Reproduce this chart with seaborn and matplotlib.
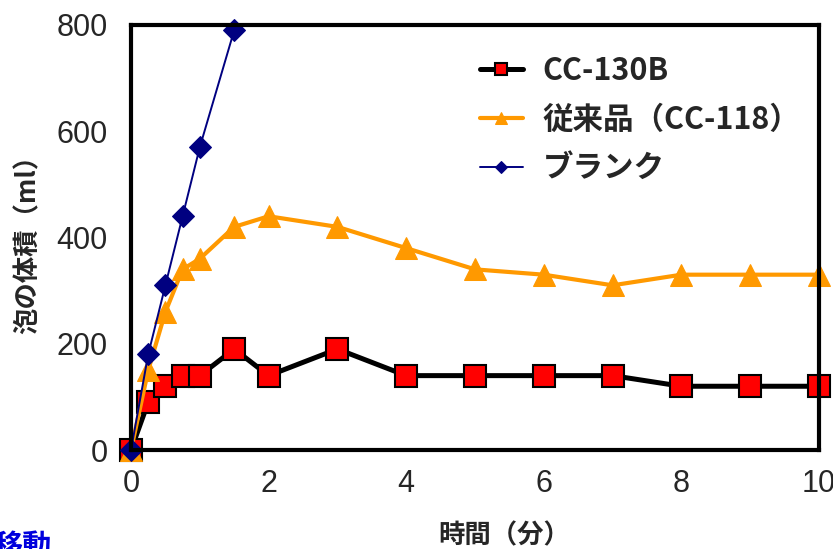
import seaborn as sns
import pandas as pd
import numpy as np
import matplotlib.pyplot as plt

# time (min) and foam volume (ml)
time_main = [0, 0.25, 0.5, 0.75, 1, 1.5, 2, 3, 4, 5, 6, 7, 8, 9, 10]
cc130b = [0, 90, 120, 140, 140, 190, 140, 190, 140, 140, 140, 140, 120, 120, 120]
cc118 = [0, 150, 260, 340, 360, 420, 440, 420, 380, 340, 330, 310, 330, 330, 330]
time_blank = [0, 0.25, 0.5, 0.75, 1, 1.5]
blank = [0, 180, 310, 440, 570, 790]

labels = ['CC-130B', '従来品（CC-118）', 'ブランク']
xticks = [0, 2, 4, 6, 8, 10]
yticks = [0, 200, 400, 600, 800]

sns.set_style('white')
jp = ['Noto Sans CJK JP', 'DejaVu Sans']
num_font = ['Liberation Sans Narrow', 'Liberation Sans', 'DejaVu Sans']
plt.rcParams['font.family'] = jp

fig = plt.figure(figsize=(8.33, 5.49), dpi=100)
ax = fig.add_axes([131 / 833, 99 / 549, 688 / 833, 425 / 549])

d1 = pd.DataFrame({'t': time_main, 'v': cc130b})
d2 = pd.DataFrame({'t': time_main, 'v': cc118})
d3 = pd.DataFrame({'t': time_blank, 'v': blank})

sns.lineplot(data=d1, x='t', y='v', ax=ax, color='black', linewidth=3.6,
             marker='s', markersize=15.5, markerfacecolor='#FF0000',
             markeredgecolor='black', markeredgewidth=1.5, clip_on=False,
             label=labels[0])
sns.lineplot(data=d2, x='t', y='v', ax=ax, color='#FF9900', linewidth=3,
             marker='^', markersize=16, markerfacecolor='#FF9900',
             markeredgecolor='#FF9900', clip_on=False, label=labels[1])
sns.lineplot(data=d3, x='t', y='v', ax=ax, color='#000080', linewidth=1.4,
             marker='D', markersize=11, markerfacecolor='#000080',
             markeredgecolor='#000080', clip_on=False, label=labels[2])

ax.set_xlim(0, 10)
ax.set_ylim(0, 800)
ax.set_xticks(xticks)
ax.set_yticks(yticks)
ax.set_xticklabels([str(v) for v in xticks], family=num_font, fontsize=22)
ax.set_yticklabels([str(v) for v in yticks], family=num_font, fontsize=22)
ax.tick_params(axis='both', direction='in', length=5, width=0.8, color='black')
ax.tick_params(axis='x', pad=14)
ax.tick_params(axis='y', pad=17)
for s in ax.spines.values():
    s.set_linewidth(3)
    s.set_color('black')

ax.set_xlabel('時間（分）', fontsize=19, fontweight='bold')
ax.xaxis.set_label_coords(0.542, -0.17)
ax.set_ylabel('泡の体積（ml）', fontsize=19, fontweight='bold')
ax.yaxis.set_label_coords(-0.13, 0.50)

leg = ax.legend(loc='upper left', bbox_to_anchor=(0.507, 0.93), frameon=False,
                borderpad=0, borderaxespad=0, handlelength=1.4,
                handletextpad=0.65, labelspacing=0.55, markerscale=0.55,
                prop={'family': jp, 'size': 22, 'weight': 'bold'})

fig.text(52 / 833, 1 - 531 / 549, '移動', ha='right', va='top', fontsize=21,
         fontweight='bold', color='#0000DD')

fig.savefig('out.png', dpi=100)
